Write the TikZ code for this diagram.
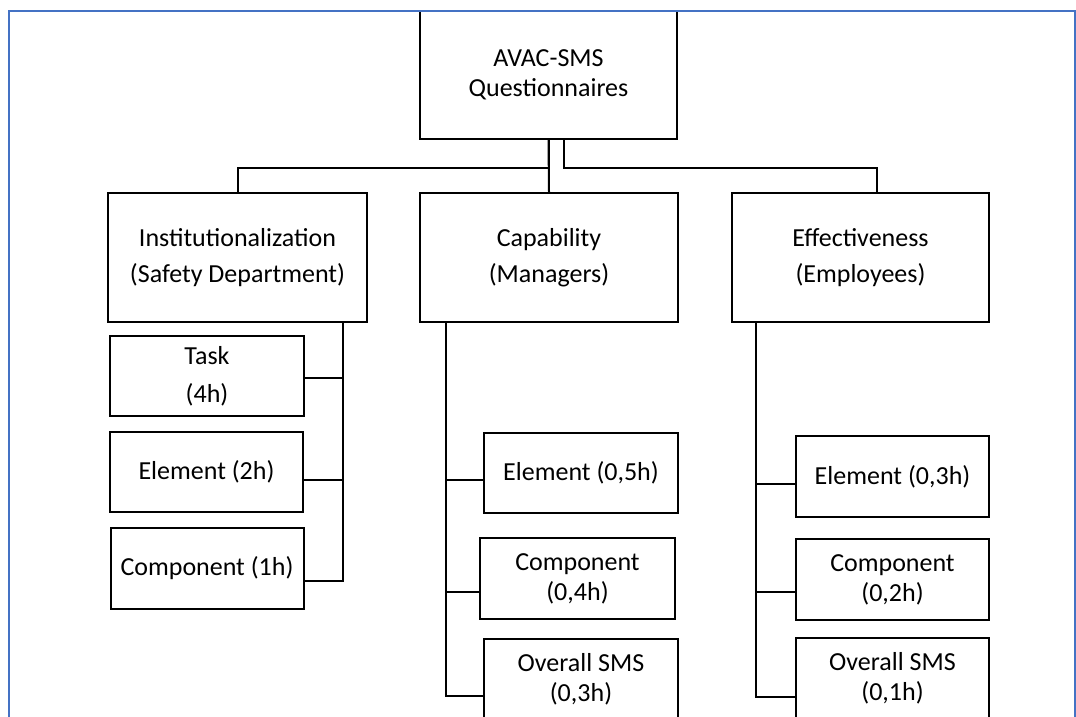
\documentclass[tikz,border=0pt]{standalone}
\usepackage{fontspec}
\setmainfont{Carlito}
\definecolor{framebl}{RGB}{68,114,196}
\tikzset{
  box/.style={draw=black, line width=2pt, rectangle, align=center, inner sep=0pt, text=black},
  fA/.style={font={\fontsize{26}{30}\selectfont}},
  fB/.style={font={\fontsize{26}{36}\selectfont}},
  fC/.style={font={\fontsize{26}{38}\selectfont}},
  link/.style={draw=black, line width=2pt},
  frameline/.style={draw=framebl, line width=2pt}
}
\begin{document}
\begin{tikzpicture}[x=1pt,y=-1pt]
\useasboundingbox (0,0) rectangle (1076,717);
\clip (0,0) rectangle (1076,717);
\fill[white] (0,0) rectangle (1076,717);

% level 1
\node[box,fA,minimum width=257pt,minimum height=128pt] (top) at (548.5,75) {AVAC-SMS\\Questionnaires};

% level 2
\node[box,fB,minimum width=259pt,minimum height=129pt] (inst) at (237.5,257.5) {Institutionalization\\(Safety Department)};
\node[box,fB,minimum width=258pt,minimum height=129pt] (cap) at (549,257.5) {Capability\\(Managers)};
\node[box,fB,minimum width=257pt,minimum height=129pt] (eff) at (860.5,257.5) {Effectiveness\\(Employees)};

% level 3 left
\node[box,fC,minimum width=194pt,minimum height=80pt] (task) at (207,376) {Task\\(4h)};
\node[box,fA,minimum width=193pt,minimum height=80pt] (el2) at (206.5,472) {Element (2h)};
\node[box,fA,minimum width=193pt,minimum height=81pt] (comp1) at (207,568.5) {Component (1h)};

% level 3 middle
\node[box,fA,minimum width=194pt,minimum height=80pt] (el5) at (581,473) {Element (0,5h)};
\node[box,fA,minimum width=195pt,minimum height=81pt] (comp4) at (577.5,578.5) {Component\\(0,4h)};
\node[box,fA,minimum width=194pt,minimum height=80pt] (ov3) at (581,679) {Overall SMS\\(0,3h)};

% level 3 right
\node[box,fA,minimum width=193pt,minimum height=81pt] (el3) at (892.5,476.5) {Element (0,3h)};
\node[box,fA,minimum width=193pt,minimum height=81pt] (comp2) at (892.5,579.5) {Component\\(0,2h)};
\node[box,fA,minimum width=193pt,minimum height=80pt] (ov1) at (892.5,678) {Overall SMS\\(0,1h)};

% top connectors
\draw[link] (top.south) -- (cap.north);
\draw[link] (top.south) -- ++(0,28) -| (inst.north);
\draw[link] ([xshift=15.5pt]top.south) -- ++(0,28) -| ([xshift=16.5pt]eff.north);

% left spine
\draw[link] ([xshift=-25pt]inst.south east) |- ([yshift=-12.5pt]comp1.east);
\draw[link] ([yshift=-2pt]task.east) -- ++(38,0);
\draw[link] ([yshift=-8pt]el2.east) -- ++(39.5,0);

% middle spine
\draw[link] ([xshift=27pt]cap.south west) |- ([yshift=-17pt]ov3.west);
\draw[link] ([yshift=-7pt]el5.west) -- ++(-37,0);
\draw[link] ([yshift=-13.5pt]comp4.west) -- ++(-33,0);

% right spine
\draw[link] ([xshift=25pt]eff.south west) |- ([yshift=-19pt]ov1.west);
\draw[link] ([yshift=-7.5pt]el3.west) -- ++(-39,0);
\draw[link] ([yshift=-12.5pt]comp2.west) -- ++(-39,0);

% frame
\draw[frameline] (9,720) -- (9,11) -- (1075,11) -- (1075,720);
\end{tikzpicture}
\end{document}
